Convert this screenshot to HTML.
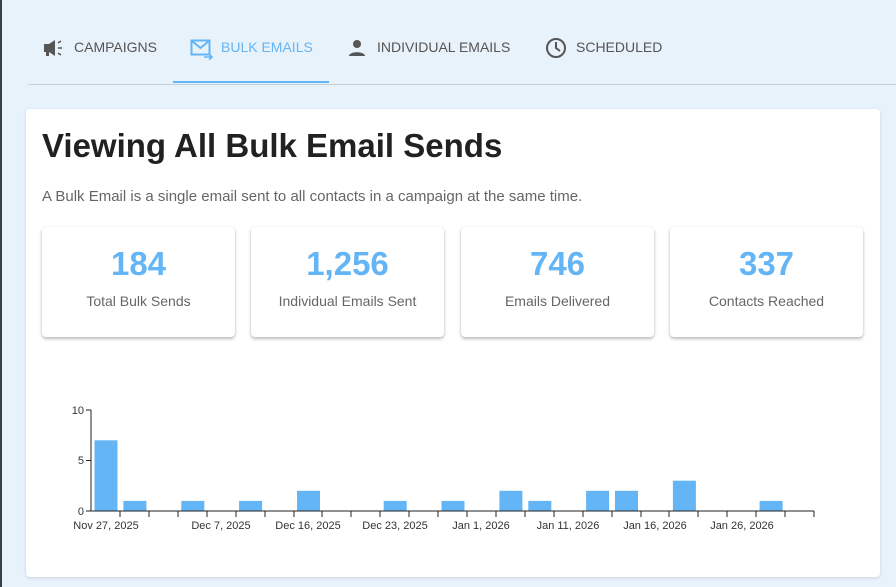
<!DOCTYPE html>
<html><head><style>
body{margin:0;width:896px;height:587px;background:#e8f2fb;font-family:"Liberation Sans",sans-serif;position:relative;overflow:hidden}
.lb{position:absolute;left:0;top:0;width:2px;height:587px;background:#3a3f47}
.tab{position:absolute;top:39px;font-size:14px;color:#555;letter-spacing:0px;font-weight:500}
.tab.a{color:#64b5f6}
.card{position:absolute;left:26px;top:109px;width:854px;height:468px;background:#fff;border-radius:4px;box-shadow:0 1px 3px rgba(0,0,0,.12)}
h1{position:absolute;left:42px;top:127px;margin:0;font-size:33px;font-weight:bold;color:#212121}
.sub{position:absolute;left:42px;top:188px;font-size:15px;color:#666}
.st{position:absolute;top:227px;width:193px;height:110px;background:#fff;border-radius:4px;box-shadow:0 2px 3px rgba(0,0,0,.25),0 0 2px rgba(0,0,0,.08);text-align:center}
.st b{display:block;margin-top:17px;font-size:33px;color:#64b5f6;line-height:40px}
.st span{display:block;margin-top:9px;font-size:14px;color:#666}
</style></head><body>
<div class="lb"></div>
<svg style="position:absolute;left:42px;top:38px" width="24" height="20" viewBox="0 0 24 20"><path d="M2 6h5l6-4v16l-6-4H2z M4 14h3v4H4z" fill="#555"/><path d="M16 5l3-2M16 10h4M16 15l3 2" stroke="#555" stroke-width="1.5"/></svg>
<div class="tab" style="left:74px">CAMPAIGNS</div>
<svg style="position:absolute;left:190px;top:38px" width="24" height="22"><rect x="1.5" y="2.5" width="18" height="14" fill="none" stroke="#64b5f6" stroke-width="2"/><path d="M2 3l8.5 7 8.5-7" fill="none" stroke="#64b5f6" stroke-width="2"/><path d="M14 19h7M19 16l3 3-3 3" fill="none" stroke="#64b5f6" stroke-width="1.6"/></svg>
<div class="tab a" style="left:221px">BULK EMAILS</div>
<div style="position:absolute;left:173px;top:81px;width:156px;height:2px;background:#64b5f6"></div>
<svg style="position:absolute;left:347px;top:38px" width="20" height="20"><circle cx="10" cy="6" r="4" fill="#555"/><path d="M2 18c0-5 16-5 16 0z" fill="#555"/></svg>
<div class="tab" style="left:377px">INDIVIDUAL EMAILS</div>
<svg style="position:absolute;left:545px;top:37px" width="22" height="22"><circle cx="11" cy="11" r="9" fill="none" stroke="#555" stroke-width="2"/><path d="M11 5v6l4 3" fill="none" stroke="#555" stroke-width="2"/></svg>
<div class="tab" style="left:576px">SCHEDULED</div>
<div style="position:absolute;left:28px;top:84px;width:868px;height:1px;background:#c5cfd9"></div>
<div class="card"></div>
<h1>Viewing All Bulk Email Sends</h1>
<div class="sub">A Bulk Email is a single email sent to all contacts in a campaign at the same time.</div>
<div class="st" style="left:42px"><b>184</b><span>Total Bulk Sends</span></div>
<div class="st" style="left:251px"><b>1,256</b><span>Individual Emails Sent</span></div>
<div class="st" style="left:461px"><b>746</b><span>Emails Delivered</span></div>
<div class="st" style="left:670px"><b>337</b><span>Contacts Reached</span></div>
<svg style="position:absolute;left:0;top:0" width="896" height="587" font-family="Liberation Sans,sans-serif" font-size="11" fill="#333">
<g fill="#64b5f6">
<rect x="94.5" y="440.3" width="23" height="70.7"/>
<rect x="123.4" y="500.9" width="23" height="10.1"/>
<rect x="181.3" y="500.9" width="23" height="10.1"/>
<rect x="239.1" y="500.9" width="23" height="10.1"/>
<rect x="297" y="490.8" width="23" height="20.2"/>
<rect x="383.7" y="500.9" width="23" height="10.1"/>
<rect x="441.5" y="500.9" width="23" height="10.1"/>
<rect x="499.4" y="490.8" width="23" height="20.2"/>
<rect x="528.3" y="500.9" width="23" height="10.1"/>
<rect x="586.1" y="490.8" width="23" height="20.2"/>
<rect x="615" y="490.8" width="23" height="20.2"/>
<rect x="672.9" y="480.7" width="23" height="30.3"/>
<rect x="759.6" y="500.9" width="23" height="10.1"/>
</g>
<path d="M91 410v101M86 410h5M86 460.5h5M86 511h5M91 511h723" stroke="#222" fill="none"/>
<path stroke="#222" d="M120 511v6M149 511v6M178 511v6M207 511v6M236 511v6M265 511v6M294 511v6M322 511v6M351 511v6M380 511v6M409 511v6M438 511v6M467 511v6M496 511v6M525 511v6M554 511v6M583 511v6M612 511v6M641 511v6M669 511v6M698 511v6M727 511v6M756 511v6M785 511v6M814 511v6"/>
<g text-anchor="end"><text x="84" y="414">10</text><text x="84" y="464">5</text><text x="84" y="515">0</text></g>
<g text-anchor="middle">
<text x="106" y="529">Nov 27, 2025</text>
<text x="221" y="529">Dec 7, 2025</text>
<text x="308" y="529">Dec 16, 2025</text>
<text x="395" y="529">Dec 23, 2025</text>
<text x="481" y="529">Jan 1, 2026</text>
<text x="568" y="529">Jan 11, 2026</text>
<text x="655" y="529">Jan 16, 2026</text>
<text x="742" y="529">Jan 26, 2026</text>
</g>
</svg>
</body></html>
